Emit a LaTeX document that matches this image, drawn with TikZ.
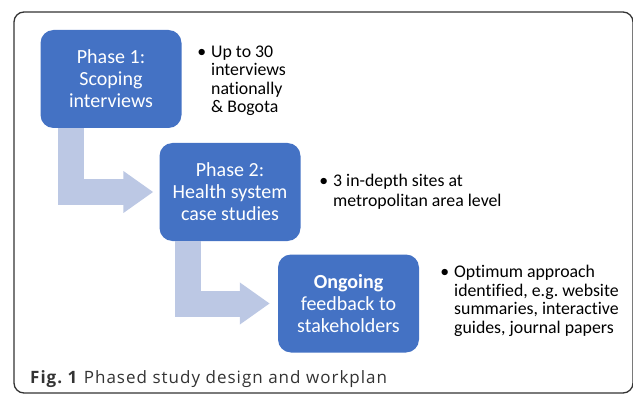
\documentclass[tikz,border=0pt]{standalone}
\usepackage{fontspec}
\setmainfont{Carlito}[Ligatures=NoCommon]
\newfontfamily\capfont[LetterSpace=6]{Open Sans}
\usetikzlibrary{arrows.meta,calc}
\definecolor{boxblue}{HTML}{4472C4}
\definecolor{arrowblue}{HTML}{BCC8E4}
\definecolor{framegray}{HTML}{333333}
\newcommand{\bul}{\llap{•\hspace{5pt}}}
\frenchspacing
\tikzset{
  phasebox/.style={fill=boxblue, draw=none, rounded corners=13pt, minimum width=141pt, minimum height=98pt,
    text=white, align=center, font=\fontsize{20}{22}\selectfont, inner sep=0pt},
  bigarrow/.style={draw=arrowblue, line width=26pt, line join=miter,
    -{Triangle[length=30pt,width=40pt]}},
  bullettext/.style={anchor=base west, align=left, inner sep=0pt, font=\fontsize{17.8}{18.5}\selectfont},
  captext/.style={anchor=base west, inner sep=0pt, font=\capfont\fontsize{17}{20}\selectfont, text=black!80}
}
\begin{document}
\begin{tikzpicture}[x=1pt,y=-1pt]
\useasboundingbox (0,0) rectangle (633,396);
\draw[framegray, line width=1.3pt, rounded corners=10pt] (14,12) rectangle (633,393);

\node[phasebox] (p1) at (111,79) {Phase 1:\\Scoping\\interviews};
\node[phasebox] (p2) at (230,192) {Phase 2:\\Health system\\case studies};
\node[phasebox] (p3) at (348.5,303.5) {\textbf{Ongoing}\\feedback to\\stakeholders};

\draw[bigarrow] ($(p1.south west)+(30.5,0)$) |- ($(p2.west)+(-6,0)$);
\draw[bigarrow] ($(p2.south west)+(29,0)$) |- ($(p3.west)+(-8,0)$);

\node[bullettext] (t1) at (211,113) {\bul Up to 30\\interviews\\nationally\\\& Bogota};
\node[bullettext, font=\fontsize{17.8}{20}\selectfont] (t2) at (333,206) {\bul 3 in-depth sites at\\metropolitan area level};
\node[bullettext] (t3) at (454,333) {\bul Optimum approach\\identified, e.g. website\\summaries, interactive\\guides, journal papers};

\node[captext] (cap) at (30,383) {\textbf{Fig. 1} Phased study design and workplan};
\end{tikzpicture}
\end{document}
